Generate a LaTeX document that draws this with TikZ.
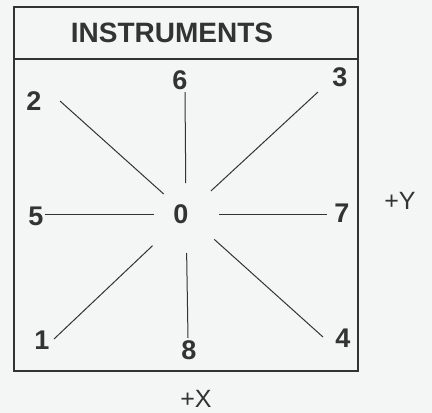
\documentclass[tikz,border=0pt]{standalone}
\usepackage{fontspec}
\setmainfont{Liberation Sans}
\usepackage{xcolor}
\definecolor{paper}{HTML}{F4F5F5}
\definecolor{ink}{HTML}{333333}
\usetikzlibrary{positioning}
\tikzset{
  frame/.style={draw=ink, line width=1.6pt},
  digit/.style={text=ink, inner sep=1pt, font=\fontsize{27}{27}\selectfont\bfseries},
  axis/.style={text=ink, inner sep=0pt, font=\fontsize{25}{25}\selectfont},
  title/.style={text=ink, inner sep=1pt, font=\fontsize{28}{28}\selectfont\bfseries},
  spoke/.style={draw=ink, line width=1pt},
}

\begin{document}
\begin{tikzpicture}[x=1pt, y=-1pt]
  \useasboundingbox (0,0) rectangle (432,413);
  \fill[paper] (0,0) rectangle (432,413);
  % panel
  \draw[frame] (14,7) rectangle (358,59);
  \draw[frame] (14,59) rectangle (358,371);
  \node[title] (ttl) at (172,33) {INSTRUMENTS};
  % instrument labels
  \node[digit] (n0) at (181,214) {0};
  \node[digit] (n1) at (42,340) {1};
  \node[digit] (n2) at (34,101) {2};
  \node[digit] (n3) at (340,77) {3};
  \node[digit] (n4) at (343,338) {4};
  \node[digit] (n5) at (36,216) {5};
  \node[digit] (n6) at (180,80) {6};
  \node[digit] (n7) at (342,213) {7};
  \node[digit] (n8) at (189,350) {8};
  \node[axis] (ay) at (400,201) {+Y};
  \node[axis] (ax) at (196,399) {+X};
  % spokes
  \coordinate (hub) at (186,214);
  \coordinate (t1) at (54,339);
  \coordinate (t2) at (60,101);
  \coordinate (t3) at (318,92);
  \coordinate (t4) at (323,337);
  \coordinate (t5) at (45,214);
  \coordinate (t6) at (185,92);
  \coordinate (t7) at (327,214);
  \coordinate (t8) at (188,338);
  \foreach \t/\r in {t1/46,t2/30,t3/34,t4/38,t5/32,t6/31,t7/33,t8/39}
    \draw[spoke, shorten <=\r pt] (hub) -- (\t);
\end{tikzpicture}
\end{document}
